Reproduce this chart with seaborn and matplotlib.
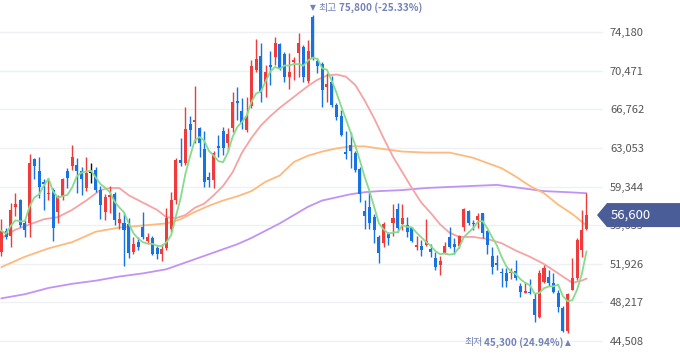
import numpy as np
import pandas as pd
import matplotlib
matplotlib.use("Agg")
import matplotlib.pyplot as plt
import matplotlib.transforms as mtransforms
from matplotlib.patches import Polygon
import seaborn as sns

# ---------------- data ----------------
opens = [53100, 55100, 54600, 57400, 58000, 55800, 55800, 62000, 60800, 59800,
         58600, 59000, 56900, 58300, 60800, 61300, 61400, 60800, 59200, 60600,
         60900, 59000, 56900, 58300, 58600, 55800, 55800, 55700, 53100, 54000,
         55500, 54100, 54400, 53400, 52900, 53400, 55300, 58000, 61900, 61600,
         65300, 65500, 65000, 62900, 60300, 60000, 63200, 64700, 63500, 65000,
         67500, 66600, 64800, 67100, 70500, 71900, 69300, 71000, 71800, 73000,
         72100, 69900, 71300, 72200, 72700, 69500, 75600, 71400, 71100, 68900,
         69400, 67200, 66100, 62600, 63300, 62600, 61000, 57000, 57400, 56400,
         54500, 53900, 54900, 55800, 57200, 55700, 55600, 55400, 53500, 53600,
         53700, 53300, 52500, 51800, 53000, 54500, 53800, 53600, 55500, 57000,
         55800, 56100, 56800, 55100, 52700, 52000, 51100, 51000, 51000, 51200,
         49800, 49100, 49200, 48500, 46800, 50200, 50700, 50100, 49100, 47700,
         45500, 49400, 50600, 53200, 55300]
closes = [55100, 54500, 57100, 57700, 55600, 55200, 61600, 61300, 59300, 59600,
          58700, 55400, 58300, 60100, 60200, 62200, 60800, 60100, 60600, 60600,
          59000, 57600, 58300, 58500, 56100, 56200, 55200, 53000, 53800, 53500,
          54500, 54500, 52900, 52900, 53300, 56300, 58000, 61900, 61600, 64900,
          64800, 65700, 63500, 59800, 60000, 62600, 63000, 63000, 64400, 67500,
          67400, 65400, 66100, 70900, 71600, 68300, 70300, 70800, 73100, 70700,
          69900, 70300, 71500, 73100, 69900, 72400, 71700, 70900, 68600, 69200,
          67200, 66000, 64300, 62500, 62800, 60900, 58600, 56500, 55800, 55200,
          53000, 55700, 54400, 56300, 55400, 56300, 55000, 54100, 53700, 53200,
          54100, 53100, 51600, 52200, 53600, 53500, 53500, 54600, 57200, 55800,
          55700, 56500, 54900, 53700, 51600, 51800, 51000, 50300, 51100, 50600,
          49200, 49300, 49100, 47000, 51000, 51500, 50100, 49200, 47800, 45500,
          49000, 50600, 54200, 55200, 56600]
highs = [56200, 55400, 57800, 58700, 58100, 56100, 62500, 62100, 62200, 60100,
         60200, 59200, 58500, 60200, 61100, 63300, 62100, 61200, 62200, 61600,
         61200, 59400, 58600, 59400, 58800, 56900, 56800, 56300, 54500, 54500,
         56900, 54900, 54600, 53600, 53800, 57300, 58800, 62100, 64000, 67000,
         66100, 69000, 65100, 64700, 60700, 62800, 64300, 65100, 65000, 68400,
         68900, 67800, 67900, 71500, 73500, 73100, 71000, 72400, 73700, 73100,
         72300, 72200, 71800, 74100, 72900, 73400, 75800, 71700, 71300, 70200,
         70000, 67400, 66700, 64700, 64600, 62800, 61200, 58000, 58800, 56700,
         54700, 55900, 55000, 57700, 57800, 57700, 56400, 55500, 54600, 54200,
         56200, 53800, 53100, 52700, 54000, 55500, 54400, 54700, 57300, 57100,
         56100, 56800, 56800, 55200, 53500, 52800, 51500, 51500, 51500, 52300,
         50100, 50200, 50500, 49100, 51300, 51800, 51300, 51000, 49400, 47900,
         49100, 52500, 54400, 57100, 58700]
lows = [52700, 54300, 53500, 56500, 55500, 54500, 54500, 60100, 58200, 57100,
        58000, 54100, 55800, 58000, 59200, 60900, 58700, 58500, 58900, 59700,
        58800, 56200, 56100, 56800, 55600, 55300, 51700, 52500, 52900, 53200,
        54300, 53800, 52800, 52400, 52200, 53200, 55000, 57700, 61300, 61400,
        63200, 63500, 62200, 59300, 59300, 59200, 62200, 62400, 62800, 64600,
        65700, 64900, 64600, 66900, 70300, 67500, 67900, 69100, 71000, 70500,
        69400, 68700, 69600, 69900, 69400, 69300, 71500, 70200, 67000, 67500,
        67000, 65700, 64200, 62000, 61100, 60700, 57900, 55300, 55300, 53900,
        52000, 53500, 53700, 54600, 55000, 55200, 54500, 54000, 53200, 52700,
        53600, 52600, 51300, 50800, 52900, 53400, 52900, 53400, 55100, 55600,
        55200, 55400, 54400, 52900, 50900, 51300, 49700, 49700, 50500, 50400,
        48700, 49100, 49000, 46300, 46700, 50100, 49800, 49100, 47300, 45400,
        45300, 49400, 50400, 52600, 55200]

# 20-day moving average, read at these candle positions
ma20_idx = [0, 3, 6, 9, 12, 15, 18, 21, 23, 25, 27, 30, 33, 35, 37, 39, 41, 43,
            45, 47, 49, 51, 53, 55, 57, 59, 61, 63, 65, 67, 69, 71, 73, 75, 77,
            79, 81, 83, 85, 87, 89, 91, 93, 95, 97, 100, 103, 106, 109, 112,
            115, 118, 121, 123, 124]
ma20 = [54400, 55200, 55700, 56200, 56400, 57100, 58000, 59000, 59200, 59200,
        58500, 57800, 57100, 56400, 56300, 56600, 57300, 57700, 58500, 59400,
        60700, 62600, 64000, 65200, 66100, 66900, 67600, 68300, 69000, 69600,
        70000, 70100, 69900, 69100, 67600, 65900, 64000, 62200, 60700, 59200,
        57800, 56800, 55700, 54900, 54500, 54500, 54300, 53900, 53200, 52600,
        51900, 51000, 50100, 50300, 50500]
# 60-day moving average
ma60_idx = [0, 5, 10, 15, 20, 25, 30, 35, 38, 41, 44, 47, 50, 53, 56, 59, 62,
            65, 68, 71, 74, 77, 80, 85, 90, 95, 100, 103, 106, 109, 112, 115,
            118, 121, 124]
ma60 = [51600, 52600, 53400, 54000, 55000, 55400, 55600, 55800, 56200, 56900,
        57500, 58000, 58400, 58900, 59800, 60400, 61700, 62300, 62700, 63000,
        63200, 63200, 63000, 62700, 62600, 62600, 62100, 61600, 61100, 60300,
        59400, 58700, 57600, 56700, 55600]
# 120-day moving average
ma120_idx = [0, 5, 10, 15, 20, 25, 30, 35, 40, 45, 50, 53, 56, 59, 62, 65, 68,
             71, 74, 77, 80, 85, 90, 95, 100, 105, 110, 115, 120, 124]
ma120 = [48600, 49000, 49600, 50000, 50300, 50700, 51000, 51400, 52200, 53000,
         53800, 54400, 55100, 55800, 56600, 57400, 58000, 58300, 58600, 58800,
         58900, 59000, 59200, 59300, 59400, 59500, 59200, 58900, 58800, 58700]

ytick_values = [44508, 48217, 51926, 55635, 59344, 63053, 66762, 70471, 74180]
ytick_labels = ["44,508", "48,217", "51,926", "55,635", "59,344",
                "63,053", "66,762", "70,471", "74,180"]
high_label = "최고"
low_label = "최저"

# ---------------- styling ----------------
UP = "#ef3b3b"
DOWN = "#1673e6"
FLAT = "#111111"
C_MA5 = "#86dc8a"
C_MA20 = "#f6a3a3"
C_MA60 = "#ffb97c"
C_MA120 = "#c193f5"
BADGE = "#4b5d99"
ANN = "#7283b5"

sns.set_theme(style="white")
plt.rcParams["font.family"] = ["Noto Sans CJK KR", "DejaVu Sans"]

W, H = 680, 358
fig = plt.figure(figsize=(W / 100, H / 100), dpi=100)
ax = fig.add_axes([0, 0, 603 / W, 1])

df = pd.DataFrame({"open": opens, "high": highs, "low": lows, "close": closes})
df["idx"] = np.arange(len(df))
df["ma5"] = df["close"].rolling(5, min_periods=1).mean()
colors = [UP if c > o else (DOWN if c < o else FLAT)
          for o, c in zip(df["open"], df["close"])]

# grid
for v in ytick_values:
    ax.axhline(v, color="#eef0f4", lw=1.0, zorder=0)

# moving averages (long ones under candles)
d120 = pd.DataFrame({"idx": ma120_idx, "v": ma120})
d60 = pd.DataFrame({"idx": ma60_idx, "v": ma60})
d20 = pd.DataFrame({"idx": ma20_idx, "v": ma20})
sns.lineplot(data=d120, x="idx", y="v", ax=ax, color=C_MA120, lw=1.3, zorder=2)
sns.lineplot(data=d60, x="idx", y="v", ax=ax, color=C_MA60, lw=1.3, zorder=2)
sns.lineplot(data=d20, x="idx", y="v", ax=ax, color=C_MA20, lw=1.3, zorder=2)

# candles
ax.vlines(df["idx"], df["low"], df["high"], colors=colors, lw=1.0, zorder=3)
body_lo = np.minimum(df["open"], df["close"])
body_h = np.maximum(np.abs(df["close"] - df["open"]), 110)
ax.bar(df["idx"], body_h, bottom=body_lo, width=0.64, color=colors,
       linewidth=0, zorder=4)

sns.lineplot(data=df, x="idx", y="ma5", ax=ax, color=C_MA5, lw=1.3, zorder=5)

ax.set_xlim(-0.275, 127.5)
ax.set_ylim(42874, 77255)
ax.set_xticks([])
ax.set_yticks(ytick_values)
ax.set_yticklabels(ytick_labels)
ax.yaxis.tick_right()
ax.tick_params(axis="y", length=0, pad=5, labelsize=8, labelcolor="#555555")
ax.set_xlabel("")
ax.set_ylabel("")
for s in ax.spines.values():
    s.set_visible(False)

# high / low annotations
hi_i = int(np.argmax(highs))
lo_i = int(np.argmin(lows))
last = closes[-1]
hi_pct = (last - highs[hi_i]) / highs[hi_i] * 100
lo_pct = (last - lows[lo_i]) / lows[lo_i] * 100

tri = ax.annotate("▼", xy=(hi_i, highs[hi_i]), xytext=(0, 5.2),
                  textcoords="offset points", ha="center", va="center",
                  fontsize=5.5, color=ANN, family=["DejaVu Sans"])
t1 = ax.annotate(high_label, xy=(1, 0.5), xycoords=tri, xytext=(2.2, 0),
                 textcoords="offset points", ha="left", va="center",
                 fontsize=7.2, color=ANN)
ax.annotate(f"{highs[hi_i]:,} ({hi_pct:.2f}%)", xy=(1, 0.5), xycoords=t1,
            xytext=(1.2, 0), textcoords="offset points", ha="left",
            va="center", fontsize=7.2, color=ANN, fontweight="bold")

tri2 = ax.annotate("▲", xy=(lo_i, lows[lo_i]), xytext=(0.5, -6.8),
                   textcoords="offset points", ha="center", va="center",
                   fontsize=5.5, color=ANN, family=["DejaVu Sans"])
t2 = ax.annotate(f"{lows[lo_i]:,} ({lo_pct:.2f}%)", xy=(0, 0.5), xycoords=tri2,
                 xytext=(-1.2, 0), textcoords="offset points", ha="right",
                 va="center", fontsize=7.2, color=ANN, fontweight="bold")
ax.annotate(low_label, xy=(0, 0.5), xycoords=t2, xytext=(-1.2, 0),
            textcoords="offset points", ha="right", va="center",
            fontsize=7.2, color=ANN)

# current price badge
trans = mtransforms.blended_transform_factory(fig.transFigure, ax.transData)
half = 12 * (77255 - 42874) / H
poly = Polygon([(597 / W, last), (607 / W, last + half), (1.0, last + half),
                (1.0, last - half), (607 / W, last - half)],
               closed=True, transform=trans, facecolor=BADGE, edgecolor="none",
               zorder=10)
fig.add_artist(poly)
fig.text(611 / W, last, f"{last:,}", transform=trans, ha="left", va="center",
         fontsize=9.5, color="white", zorder=11)

fig.savefig("out.png", dpi=100)
